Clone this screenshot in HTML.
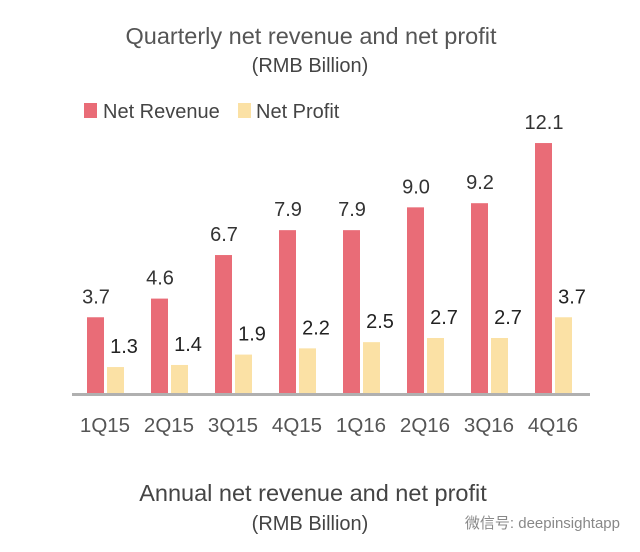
<!DOCTYPE html>
<html><head><meta charset="utf-8"><style>
body{margin:0;background:#fff;}
svg{display:block;font-family:"Liberation Sans","Noto Sans CJK SC",sans-serif;}
</style></head><body>
<svg width="640" height="552" viewBox="0 0 640 552">
<text x="311" y="44" text-anchor="middle" font-size="23.5" fill="#555">Quarterly net revenue and net profit</text>
<text x="310" y="72" text-anchor="middle" font-size="20" fill="#444">(RMB Billion)</text>
<rect x="84" y="103" width="13" height="15" fill="#e96c77"/>
<text x="103" y="118" font-size="20" fill="#444">Net Revenue</text>
<rect x="238" y="103" width="13" height="15" fill="#fbe1a5"/>
<text x="256" y="118" font-size="20" fill="#444">Net Profit</text>
<g id="plot"></g>
<rect x="72" y="393" width="518" height="3" fill="#b0b0b0"/>
<text x="313" y="501" text-anchor="middle" font-size="23.5" fill="#444">Annual net revenue and net profit</text>
<text x="310" y="530" text-anchor="middle" font-size="20" fill="#444">(RMB Billion)</text>
<text x="620" y="528" text-anchor="end" font-size="15" fill="#888">微信号: deepinsightapp</text>
</svg>
<script>
const categories=["1Q15","2Q15","3Q15","4Q15","1Q16","2Q16","3Q16","4Q16"];
const revenue=[3.7,4.6,6.7,7.9,7.9,9.0,9.2,12.1];
const profit=[1.3,1.4,1.9,2.2,2.5,2.7,2.7,3.7];
const revenueLabels=["3.7","4.6","6.7","7.9","7.9","9.0","9.2","12.1"];
const profitLabels=["1.3","1.4","1.9","2.2","2.5","2.7","2.7","3.7"];
const NS="http://www.w3.org/2000/svg";
const g=document.getElementById('plot');
const base=394, k=20.74;
const y=v=>base-v*k;
const xc=i=>105+i*64;
function mk(tag,attrs){const e=document.createElementNS(NS,tag);for(const a in attrs)e.setAttribute(a,attrs[a]);g.appendChild(e);return e;}
categories.forEach((c,i)=>{
 let r=mk('rect',{x:xc(i)-18,y:y(revenue[i]),width:17,height:revenue[i]*k,fill:'#e96c77'});
 
 
 let p=mk('rect',{x:xc(i)+2,y:y(profit[i]),width:17,height:profit[i]*k,fill:'#fbe1a5'});
 
 
 let t1=mk('text',{x:xc(i)-9,y:y(revenue[i])-14,'text-anchor':'middle','font-size':20,fill:'#333'});
 t1.textContent=revenueLabels[i];
 
 
 let t2=mk('text',{x:xc(i)+19,y:y(profit[i])-14,'text-anchor':'middle','font-size':20,fill:'#222'});
 t2.textContent=profitLabels[i];
 
 
 let t3=mk('text',{x:xc(i),y:432,'text-anchor':'middle','font-size':20.5,fill:'#555'});
 t3.textContent=c;
 
 
});
</script>
</body></html>
